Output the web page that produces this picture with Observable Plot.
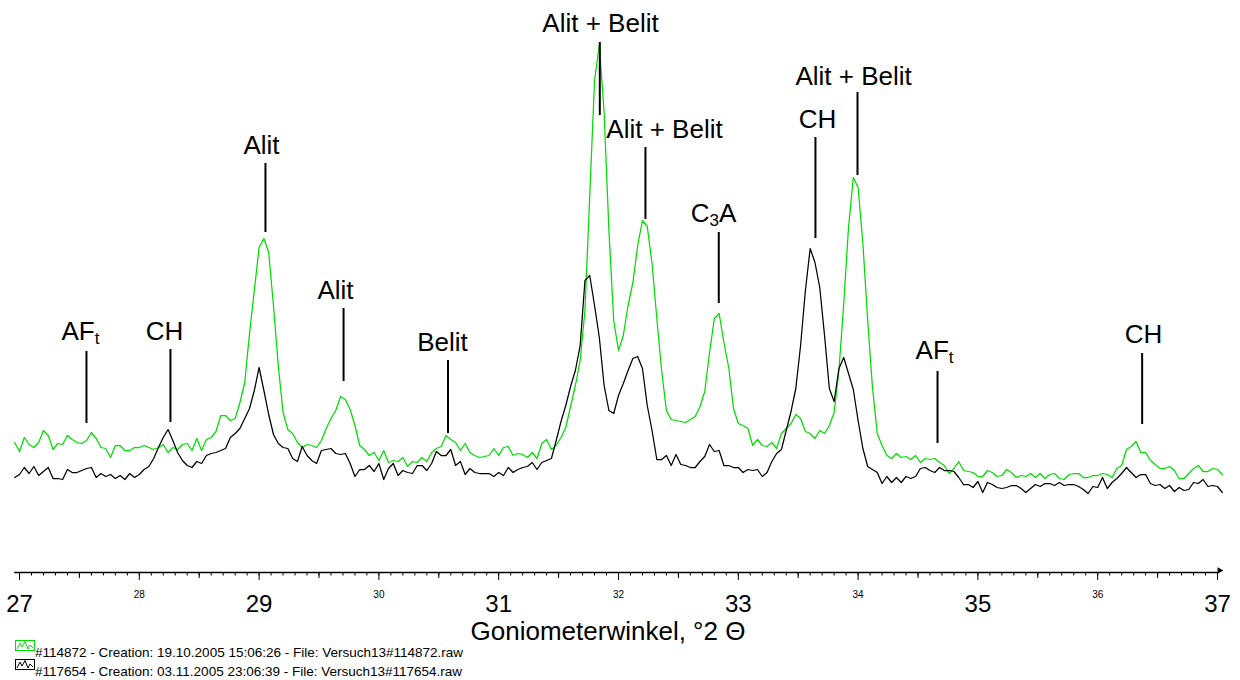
<!DOCTYPE html>
<html>
<head>
<meta charset="utf-8">
<script src="https://cdn.jsdelivr.net/npm/d3@7"></script>
<script src="https://cdn.jsdelivr.net/npm/@observablehq/plot@0.6"></script>
<style>
  html, body { margin: 0; padding: 0; background: #fff; }
  #wrap { position: relative; width: 1240px; height: 680px; font-family: "Liberation Sans", Arial, sans-serif; overflow: hidden; }
  #wrap svg { overflow: visible; }
  .legtxt { position: absolute; left: 35px; font-size: 13.5px; line-height: 13px; white-space: pre; color: #000; }
  .legico { position: absolute; left: 15px; }
</style>
</head>
<body>
<div id="wrap"></div>
<script>
// 2-theta grid (degrees)
const twoTheta = [
26.96,
27.00,27.04,27.08,27.12,27.16,27.20,27.24,27.28,27.32,27.36,27.40,27.44,27.48,27.52,27.56,27.60,27.64,27.68,27.72,27.76,27.80,27.84,27.88,27.92,27.96,
28.00,28.04,28.08,28.12,28.16,28.20,28.24,28.28,28.32,28.36,28.40,28.44,28.48,28.52,28.56,28.60,28.64,28.68,28.72,28.76,28.80,28.84,28.88,28.92,28.96,
29.00,29.04,29.08,29.12,29.16,29.20,29.24,29.28,29.32,29.36,29.40,29.44,29.48,29.52,29.56,29.60,29.64,29.68,29.72,29.76,29.80,29.84,29.88,29.92,29.96,
30.00,30.04,30.08,30.12,30.16,30.20,30.24,30.28,30.32,30.36,30.40,30.44,30.48,30.52,30.56,30.60,30.64,30.68,30.72,30.76,30.80,30.84,30.88,30.92,30.96,
31.00,31.04,31.08,31.12,31.16,31.20,31.24,31.28,31.32,31.36,31.40,31.44,31.48,31.52,31.56,31.60,31.64,31.68,31.72,31.76,31.80,31.84,31.88,31.92,31.96,
32.00,32.04,32.08,32.12,32.16,32.20,32.24,32.28,32.32,32.36,32.40,32.44,32.48,32.52,32.56,32.60,32.64,32.68,32.72,32.76,32.80,32.84,32.88,32.92,32.96,
33.00,33.04,33.08,33.12,33.16,33.20,33.24,33.28,33.32,33.36,33.40,33.44,33.48,33.52,33.56,33.60,33.64,33.68,33.72,33.76,33.80,33.84,33.88,33.92,33.96,
34.00,34.04,34.08,34.12,34.16,34.20,34.24,34.28,34.32,34.36,34.40,34.44,34.48,34.52,34.56,34.60,34.64,34.68,34.72,34.76,34.80,34.84,34.88,34.92,34.96,
35.00,35.04,35.08,35.12,35.16,35.20,35.24,35.28,35.32,35.36,35.40,35.44,35.48,35.52,35.56,35.60,35.64,35.68,35.72,35.76,35.80,35.84,35.88,35.92,35.96,
36.00,36.04,36.08,36.12,36.16,36.20,36.24,36.28,36.32,36.36,36.40,36.44,36.48,36.52,36.56,36.60,36.64,36.68,36.72,36.76,36.80,36.84,36.88,36.92,36.96,
37.00,37.04];

// Scan #114872 (green) intensities
const scan114872 = [
130,
121,135,128,125,130,142,137,123,129,128,137,133,130,129,132,140,134,125,124,115,127,127,122,122,125,
125,127,125,123,125,128,120,125,123,128,129,122,134,122,133,135,141,157,157,152,154,170,190,239,282,
325,334,320,267,207,160,143,139,130,125,128,127,125,132,144,154,162,176,173,163,147,127,123,117,120,
112,122,110,112,111,115,106,111,110,115,111,120,124,126,137,133,130,122,129,120,117,115,116,117,124,
117,125,126,117,119,118,115,120,114,129,133,123,127,135,145,166,187,212,262,377,492,528,460,342,252,
222,237,267,290,327,352,346,309,254,202,162,153,152,151,150,153,156,166,181,220,254,259,230,205,164,
149,147,144,127,133,127,126,130,124,139,144,149,158,154,141,139,134,142,139,147,160,202,269,345,395,
385,329,252,185,139,127,117,114,119,115,116,113,117,110,114,113,114,110,107,99,104,111,102,101,100,
96,96,102,100,96,97,103,100,95,97,96,99,95,99,94,98,99,94,93,98,99,99,95,95,97,
97,99,98,95,104,107,123,126,131,120,120,112,108,104,104,106,102,94,94,99,104,107,101,101,104,
103,98];

// Scan #117654 (black) intensities
const scan117654 = [
95,
98,105,99,106,97,101,105,94,94,93,103,100,100,102,104,105,95,99,96,98,94,97,93,99,95,
98,103,106,114,125,135,143,132,120,112,107,105,111,109,117,119,120,122,124,135,139,144,154,164,182,
205,182,158,138,129,125,124,114,111,126,117,112,109,122,123,124,119,118,119,109,96,103,103,107,101,
109,93,104,109,97,102,100,99,107,107,102,109,121,117,117,123,107,111,98,104,100,99,99,99,96,
100,97,105,100,103,105,106,110,103,110,112,114,132,151,167,186,202,227,292,297,267,235,187,162,159,
177,189,202,214,216,204,167,142,113,113,117,107,118,108,107,105,105,111,116,128,121,122,107,107,105,
105,100,103,102,103,96,100,111,119,123,142,161,184,227,282,324,310,285,237,184,171,204,215,199,183,
152,124,106,103,100,89,96,90,95,90,96,94,96,104,105,102,100,105,102,102,101,95,88,88,85,
91,80,90,88,85,84,85,87,87,84,80,84,88,86,89,89,87,90,87,88,88,86,83,79,86,
85,95,84,90,94,99,105,100,95,98,98,89,87,88,84,87,81,85,82,83,90,89,93,86,87,
86,80];

// Phase annotations
const peakNames = ["AFₜ","CH","Alit","Alit","Belit","Alit + Belit","Alit + Belit","C₃A","CH","Alit + Belit","AFₜ","CH"];
const peakPos   = [27.559,28.260,29.053,29.705,30.577,31.844,32.225,32.837,33.644,33.995,34.663,36.371];
const markLow   = [149,150,340,191,139,457,353,269,334,397,129,148];
const markHigh  = [221,223,409,264,212,530,425,340,435,480,201,219];
const labelPos  = [27.509,28.210,29.020,29.638,30.531,31.850,32.384,32.793,33.661,33.962,34.638,36.382];
const labelBase = [233,233,419,274,222,541,435,351,445,488,214,230];

// Axis ticks
const oddTicks  = [27,29,31,33,35,37];
const evenTicks = [28,30,32,34,36];
const halfTicks = [27.5,28.5,29.5,30.5,31.5,32.5,33.5,34.5,35.5,36.5];
const minorTicks = d3.range(270, 371).map(k => k / 10);
const axisTitle = "Goniometerwinkel, °2 Θ";

const legendLabels = [
  "#114872 - Creation: 19.10.2005 15:06:26 - File: Versuch13#114872.raw",
  "#117654 - Creation: 03.11.2005 23:06:39 - File: Versuch13#117654.raw"
];
const seriesColors = ["#00dd00", "#000000"];

const rows = twoTheta.map((t, i) => ({t, a: scan114872[i], b: scan117654[i]}));
const idx = d3.range(peakNames.length);

const plot = Plot.plot({
  width: 1240,
  height: 640,
  marginLeft: 19,
  marginRight: 23,
  marginTop: 0,
  marginBottom: 68,
  x: {domain: [27, 37]},
  y: {domain: [0, 572], axis: null},
  style: {fontFamily: '"Liberation Sans", Arial, sans-serif', background: "white", overflow: "visible"},
  marks: [
    Plot.ruleY([0], {x1: 26.96, x2: 37.0, stroke: "black", strokeWidth: 1.3}),
    Plot.dot([{t: 37, v: 0}], {x: "t", y: "v", symbol: "triangle2", r: 3.2, rotate: 90, fill: "black", dx: 2, dy: -2}),
    Plot.axisX({ticks: minorTicks, tickSize: 3.5, tickFormat: () => "", label: null}),
    Plot.axisX({ticks: halfTicks, tickSize: 6, tickFormat: () => "", label: null}),
    Plot.axisX({ticks: evenTicks, tickSize: 8, tickPadding: 10.5, fontSize: 10, tickFormat: d => String(d), label: null}),
    Plot.axisX({ticks: oddTicks, tickSize: 8, tickPadding: 14, fontSize: 24, tickFormat: d => String(d), label: null}),
    Plot.text([axisTitle], {frameAnchor: "bottom", lineAnchor: "bottom", dy: 67.5, dx: -10.5, fontSize: 26}),
    Plot.line(rows, {x: "t", y: "a", stroke: seriesColors[0], strokeWidth: 1.25}),
    Plot.line(rows, {x: "t", y: "b", stroke: seriesColors[1], strokeWidth: 1.25}),
    Plot.ruleX(idx, {x: i => peakPos[i], y1: i => markLow[i], y2: i => markHigh[i], stroke: "black", strokeWidth: 2}),
    Plot.text(idx, {x: i => labelPos[i], y: i => labelBase[i], text: i => peakNames[i], fontSize: 26, lineAnchor: "bottom", textAnchor: "middle", fill: "black"})
  ]
});

// render subscripts (ₜ, ₃) as real lowered tspans
const subMap = {"ₜ": "t", "₃": "3"};
plot.querySelectorAll("text").forEach(el => {
  const s = el.textContent;
  if (!/[ₜ₃]/.test(s)) return;
  el.textContent = "";
  let lowered = false;
  for (const ch of s) {
    const ts = document.createElementNS("http://www.w3.org/2000/svg", "tspan");
    if (subMap[ch]) {
      ts.textContent = subMap[ch];
      ts.setAttribute("font-size", "17");
      ts.setAttribute("dy", "4");
      lowered = true;
    } else {
      ts.textContent = ch;
      if (lowered) { ts.setAttribute("dy", "-4"); lowered = false; }
    }
    el.appendChild(ts);
  }
});

const wrap = document.getElementById("wrap");
wrap.appendChild(plot);

// legend below the chart
const iconTops = [640, 659];
const textTops = [646, 665];
legendLabels.forEach((lab, i) => {
  const ico = document.createElementNS("http://www.w3.org/2000/svg", "svg");
  ico.setAttribute("width", "20");
  ico.setAttribute("height", "11");
  ico.setAttribute("class", "legico");
  ico.style.top = iconTops[i] + "px";
  ico.innerHTML = `<rect x="0.5" y="0.5" width="19" height="10" fill="white" stroke="${seriesColors[i]}" stroke-width="1"/>` +
    `<polyline points="2,9 5,3 7,7 10,1.5 13,9 15,5 18,8" fill="none" stroke="${seriesColors[i]}" stroke-width="1"/>`;
  wrap.appendChild(ico);
  const t = document.createElement("div");
  t.className = "legtxt";
  t.style.top = textTops[i] + "px";
  t.textContent = lab;
  wrap.appendChild(t);
});
</script>
</body>
</html>
